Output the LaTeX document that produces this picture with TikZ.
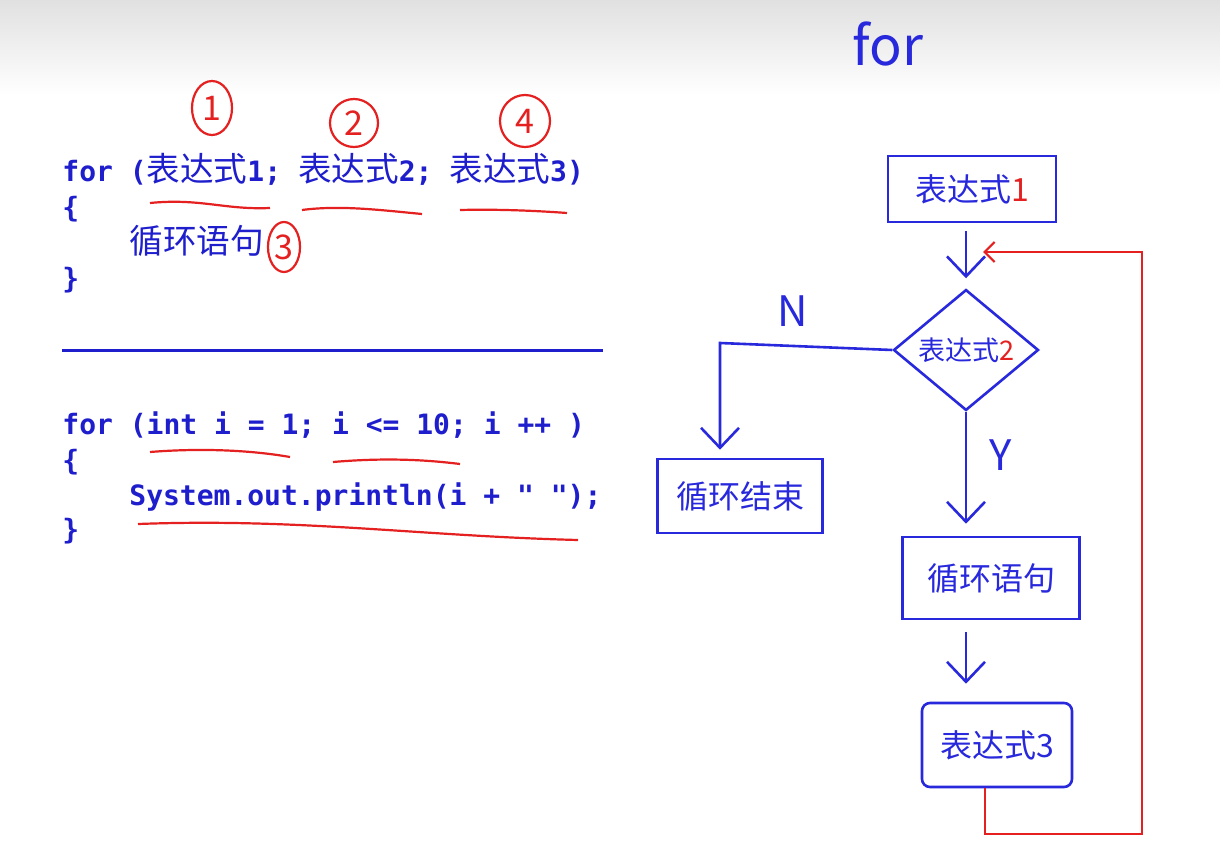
\documentclass[tikz,border=0pt]{standalone}
\usepackage{fontspec}
\setmonofont{DejaVu Sans Mono}
\newfontfamily\cjk[Scale=1.2]{Noto Sans CJK SC}
\newfontfamily\penfont{Noto Sans CJK SC}
\usetikzlibrary{positioning}
\usetikzlibrary{shapes.geometric}
\usetikzlibrary{arrows.meta}
\definecolor{codeblue}{RGB}{30,30,205}
\definecolor{penblue}{RGB}{40,40,220}
\definecolor{penred}{RGB}{228,32,32}
\tikzset{
every picture/.style=thick,
codeline/.style={anchor=base west, inner sep=0pt, text=codeblue, font=\fontsize{28}{28}\selectfont\ttfamily\bfseries},
circlenum/.style={ellipse, draw=penred, line width=2.2pt, text=penred, inner sep=0pt, font=\penfont\fontsize{34}{34}\selectfont},
penbox/.style={rectangle, draw=penblue, line width=2.6pt, text=penblue, font=\penfont\fontsize{32}{32}\selectfont},
pendiamond/.style={diamond, draw=penblue, line width=2.6pt, text=penblue, inner sep=0pt, font=\penfont\fontsize{27}{27}\selectfont},
penlabel/.style={text=penblue, inner sep=0pt, font=\penfont\fontsize{42}{42}\selectfont},
penline/.style={draw=penblue, line width=2.6pt},
penarrow/.style={penline, -{Straight Barb[length=20pt,width=38pt]}},
redline/.style={draw=penred, line width=2.2pt}
}
\newcommand\zh[1]{{\cjk\mdseries #1}}

\begin{document}
\begin{tikzpicture}[x=1pt, y=-1pt]
\fill[white] (0,0) rectangle (1220,853);
\shade[top color=black!12, bottom color=white] (0,0) rectangle (1220,95);
\useasboundingbox (0,0) rectangle (1220,853);

%Code, general form
\node[codeline] (head1) at (62,182) {for (\zh{表达式}1; \zh{表达式}2; \zh{表达式}3)};
\node[codeline] (open1) at (62,218) {\{};
\node[codeline] (body1) at (129,253) {\zh{循环语句}};
\node[codeline] (close1) at (62,288) {\}};

%Order marks
\node[circlenum, minimum width=40, minimum height=54] (mark1) at (212,108) {1};
\node[circlenum, minimum width=48, minimum height=48] (mark2) at (354,123) {2};
\node[circlenum, minimum width=32, minimum height=50] (mark3) at (284,247) {3};
\node[circlenum, minimum width=50, minimum height=52] (mark4) at (525,121) {4};
\draw[redline] (150,203) .. controls (200,198) and (225,210) .. (270,208);
\draw[redline] (302,210) .. controls (340,205) and (380,210) .. (422,214);
\draw[redline] (460,210) .. controls (500,209) and (540,211) .. (567,213);

%Separator
\coordinate (ruleleft) at (62,350);
\coordinate (ruleright) at (603,350);
\draw[codeblue, line width=3pt] (ruleleft) -- (ruleright);

%Code, example
\node[codeline] (head2) at (62,434) {for (int i = 1; i <= 10; i ++ )};
\node[codeline] (open2) at (62,470) {\{};
\node[codeline] (body2) at (129,505) {System.out.println(i + " ");};
\node[codeline] (close2) at (62,539) {\}};
\draw[redline] (150,452) .. controls (200,448) and (250,450) .. (290,457);
\draw[redline] (333,462) .. controls (380,458) and (420,459) .. (460,464);
\draw[redline] (138,524) .. controls (300,518) and (420,536) .. (578,540);

%Flowchart
\node[penlabel, font=\penfont\fontsize{54}{54}\selectfont] (title) at (888,44) {for};
\node[penbox, minimum width=168, minimum height=66] (expr1) at (972,189) {表达式{\color{penred}1}};
\node[pendiamond, minimum width=145, minimum height=100] (expr2) at (966,350) {表达式{\color{penred}2}};
\node[penbox, minimum width=165, minimum height=74] (loopend) at (740,496) {循环结束};
\node[penbox, minimum width=177, minimum height=82] (body) at (991,578) {循环语句};
\node[penbox, rounded corners=8pt, minimum width=150, minimum height=84] (expr3) at (997,745) {表达式3};
\node[penlabel] (nlabel) at (793,311) {N};
\node[penlabel] (ylabel) at (1001,455) {Y};
\coordinate (ncorner) at (720,343);
\coordinate (loopback) at (983,252);
\coordinate (loopcorner) at (1142,834);

%Lines
\draw[penarrow, shorten <=8pt, shorten >=10pt] (expr2.north |- expr1.south) -- (expr2.north);
\draw[penarrow, shorten >=8pt] (expr2.west) -- (ncorner) -- (ncorner |- loopend.north);
\draw[penarrow, shorten >=12pt] (expr2.south) -- (expr2.south |- body.north);
\draw[penarrow, shorten <=12pt, shorten >=18pt] ([xshift=-25pt]body.south) -- ([xshift=-25pt]body.south |- expr3.north);
\draw[redline, -{Straight Barb[length=10pt,width=20pt]}] ([xshift=-12pt]expr3.south) |- (loopcorner) |- (loopback);
\end{tikzpicture}
\end{document}
